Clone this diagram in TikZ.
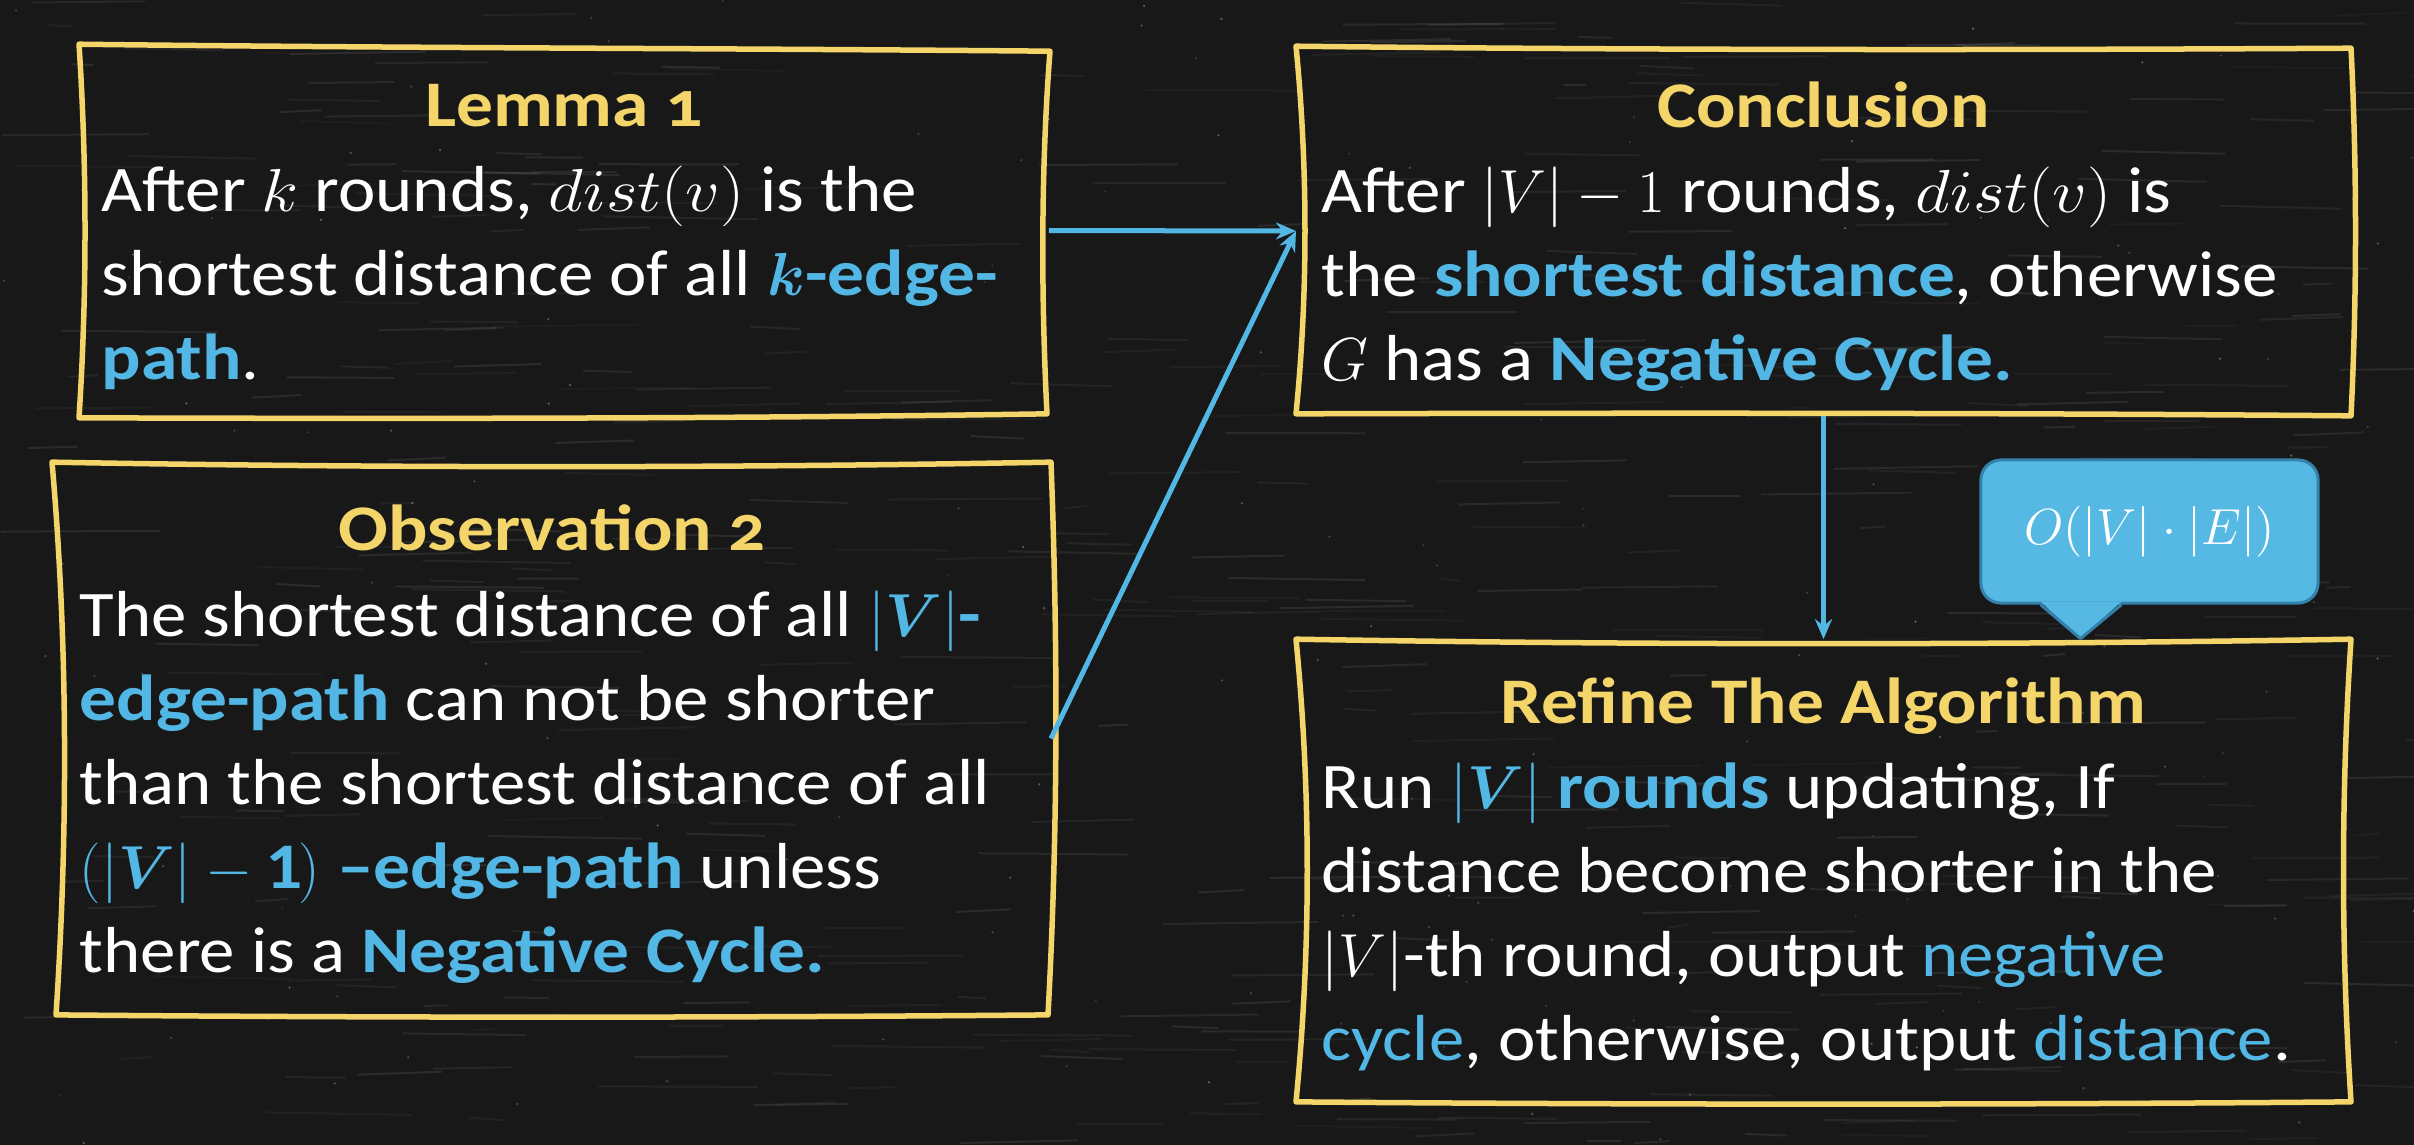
\documentclass[tikz,border=0pt]{standalone}
\usepackage{fontspec}
\usepackage{amsmath,bm,graphicx}
\setmainfont{Carlito}[FakeStretch=1.09, BoldFeatures={FakeStretch=1.13}]
\newfontfamily\titlefont{Carlito}[Numbers=OldStyle, FakeStretch=1.13]
\usetikzlibrary{calc,arrows.meta}

\definecolor{board}{RGB}{24,24,24}
\definecolor{chalkyellow}{RGB}{244,213,106}
\definecolor{chalkblue}{RGB}{82,183,228}
\definecolor{calloutfill}{RGB}{86,185,228}
\definecolor{calloutedge}{RGB}{52,130,172}

% highlighted phrases
\newcommand\hl[1]{{\bfseries\color{chalkblue}#1}}
\newcommand\hlm[1]{{\color{chalkblue}#1}}
% slightly wider inline formula
\newcommand\wmath[1]{\scalebox{1.12}[1]{$#1$}}

% hand-drawn frame around a box node:
% #1 node, #2-#5 corner shifts (nw, ne, se, sw), #6-#9 bows (top, right, bottom, left)
\newcommand\sketchframe[9]{%
  \draw[frame]
    ($(#1.north west)+#2$)
    .. controls ($(#1.north west)!0.33!(#1.north east)+(0,#6)$) and ($(#1.north west)!0.67!(#1.north east)+(0,#6)$) ..
    ($(#1.north east)+#3$)
    .. controls ($(#1.north east)!0.33!(#1.south east)+(#7,0)$) and ($(#1.north east)!0.67!(#1.south east)+(#7,0)$) ..
    ($(#1.south east)+#4$)
    .. controls ($(#1.south east)!0.33!(#1.south west)+(0,#8)$) and ($(#1.south east)!0.67!(#1.south west)+(0,#8)$) ..
    ($(#1.south west)+#5$)
    .. controls ($(#1.south west)!0.33!(#1.north west)+(#9,0)$) and ($(#1.south west)!0.67!(#1.north west)+(#9,0)$) ..
    ($(#1.north west)+#2$) -- cycle;}

\begin{document}
\begin{tikzpicture}[x=0.01cm, y=-0.01cm,
  box/.style={draw=none, rectangle, inner sep=0pt},
  frame/.style={draw=chalkyellow, line width=0.055cm, line join=round, line cap=round},
  titletext/.style={anchor=base, inner sep=0pt, text=chalkyellow,
    font=\titlefont\bfseries\fontsize{18.5}{23.9}\selectfont},
  bodytext/.style={anchor=base west, inner sep=0pt, text=white,
    font=\fontsize{18.5}{23.9}\selectfont},
  link/.style={draw=chalkblue, line width=0.05cm, -{Stealth[length=0.2cm, width=0.17cm]}},
]
% chalkboard
\useasboundingbox (0,0) rectangle (2414,1144);
\fill[board] (-20,-20) rectangle (2434,1164);
\pgfmathsetseed{17}
\foreach \i in {1,...,420}{
  \pgfmathsetmacro\sx{rnd*2414}
  \pgfmathsetmacro\sy{rnd*1144}
  \pgfmathsetmacro\sl{20+rnd*140}
  \pgfmathsetmacro\so{0.03+rnd*0.06}
  \draw[white, opacity=\so, line width=0.02cm] (\sx,\sy) -- ++(\sl,{(rnd-0.5)*6});
}
\foreach \i in {1,...,160}{
  \pgfmathsetmacro\sx{rnd*2414}
  \pgfmathsetmacro\sy{rnd*1144}
  \pgfmathsetmacro\so{0.1+rnd*0.25}
  \fill[white, opacity=\so] (\sx,\sy) circle (0.012cm);
}

% boxes
\node[box, minimum width=9.68cm, minimum height=3.69cm] (lemma) at (564,230.5) {};
\node[box, minimum width=9.95cm, minimum height=5.51cm] (obs) at (552.5,738.5) {};
\node[box, minimum width=10.53cm, minimum height=3.68cm] (concl) at (1823.5,231) {};
\node[box, minimum width=10.53cm, minimum height=4.61cm] (refine) at (1823.5,870.5) {};

\sketchframe{lemma}{(0,-1)}{(1,6)}{(-2,-2)}{(0,2)}{3}{-8}{3}{8}
\sketchframe{obs}{(-2,0)}{(0,0)}{(-3,0)}{(2,0)}{6}{7}{3}{14}
\sketchframe{concl}{(0,0)}{(0,2)}{(0,0)}{(0,-2)}{4}{6}{-3}{12}
\sketchframe{refine}{(0,0)}{(0,0)}{(0,0)}{(0,0)}{6}{-10}{3}{15}

% titles
\node[titletext] (lemmatitle) at ($(lemma.north)+(0,81)$) {Lemma 1};
\node[titletext] (obstitle) at ($(obs.north)+(0,88)$) {Observation 2};
\node[titletext] (concltitle) at ($(concl.north)+(0,81)$) {Conclusion};
\node[titletext] (refinetitle) at ($(refine.north)+(0,84)$) {Refine The Algorithm};

% texts
\node[bodytext] (lemmabody) at ($(lemma.north west)+(22,166)$) {%
  \begin{tabular}[t]{@{}l@{}}
  After \wmath{k} rounds, \wmath{dist(v)} is the\\
  shortest distance of all \hl{$\boldsymbol{k}$-edge-}\\
  \hl{path}.
  \end{tabular}};
\node[bodytext] (obsbody) at ($(obs.north west)+(25,174)$) {%
  \begin{tabular}[t]{@{}l@{}}
  The shortest distance of all \hl{$|\boldsymbol{V}|$-}\\
  \hl{edge-path} can not be shorter\\
  than the shortest distance of all\\
  \hl{$(|\boldsymbol{V}|-\mathbf{1})$ \textendash edge-path} unless\\
  there is a \hl{Negative Cycle.}
  \end{tabular}};
\node[bodytext] (conclbody) at ($(concl.north west)+(25,166)$) {%
  \begin{tabular}[t]{@{}l@{}}
  After $|V|-1$ rounds, \wmath{dist(v)} is\\
  the \hl{shortest distance}, otherwise\\
  $G$ has a \hl{Negative Cycle.}
  \end{tabular}};
\node[bodytext] (refinebody) at ($(refine.north west)+(25,169)$) {%
  \begin{tabular}[t]{@{}l@{}}
  Run \hlm{$|\boldsymbol{V}|$} \hl{rounds} updating, If\\
  distance become shorter in the\\
  $|V|$-th round, output \hlm{negative}\\
  \hlm{cycle}, otherwise, output \hlm{distance}.
  \end{tabular}};

% cost bubble
\node[fill=calloutfill, draw=calloutedge, line width=0.03cm, rounded corners=0.2cm,
  minimum width=3.37cm, minimum height=1.43cm, text=white,
  font=\fontsize{14}{16}\selectfont] (cost) at (2149.5,531.5) {$O(|V|\cdot|E|)$};
\coordinate (tip) at ($(cost.south)+(-69,34)$);
\fill[calloutfill] ($(cost.south)+(-109,-3)$) -- (tip) -- ($(cost.south)+(-28,-3)$) -- cycle;
\draw[calloutedge, line width=0.03cm, line join=round]
  ($(cost.south)+(-109,0)$) -- (tip) -- ($(cost.south)+(-28,0)$);

% connectors
\draw[link] (lemma.east) -- (concl.west);
\draw[link] (obs.east) -- (concl.west);
\draw[link] (concl.south) -- (refine.north);
\end{tikzpicture}
\end{document}
